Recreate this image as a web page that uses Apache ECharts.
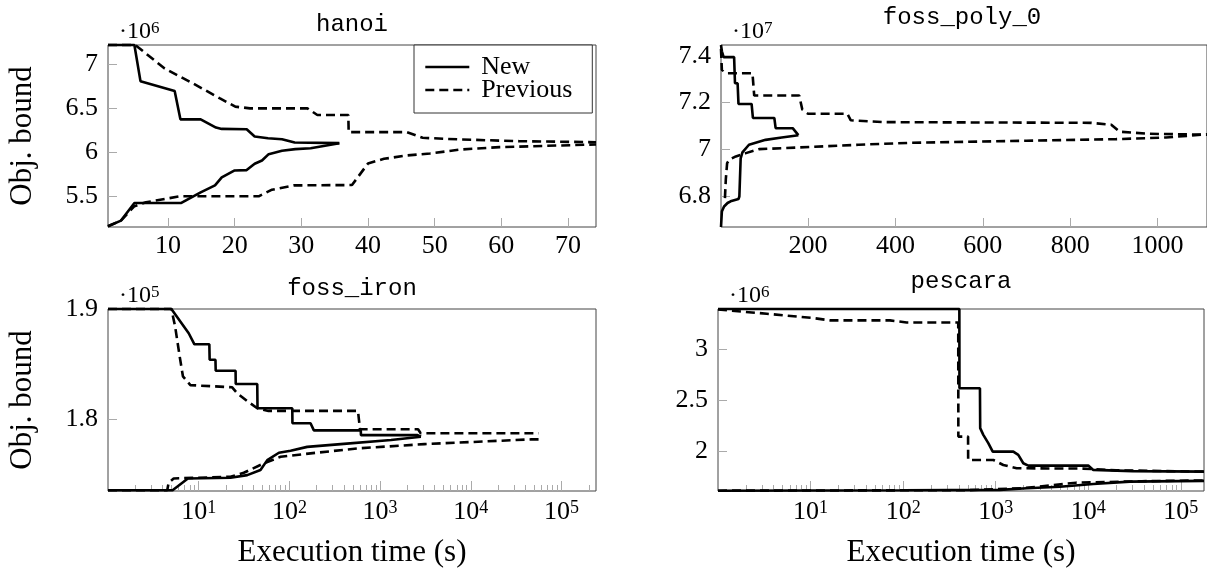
<!DOCTYPE html>
<html>
<head>
<meta charset="utf-8">
<script src="https://cdn.jsdelivr.net/npm/echarts@6/dist/echarts.min.js"></script>
<style>
html,body{margin:0;padding:0;background:#fff;}
#main{width:1207px;height:573px;}
</style>
</head>
<body>
<div id="main"></div>
<script>
// hanoi (x: seconds, y: 10^6)
var hanoiNewUp = [[1,7.222],[4.96,7.222],[5.87,6.811],[11.0,6.698],[11.86,6.377],[14.9,6.377],[17.2,6.283],[18.06,6.268],[21.8,6.264],[23,6.181],[25,6.162],[27.1,6.151],[29,6.113],[35.7,6.106]];
var hanoiNewLow = [[1,5.162],[2.95,5.226],[4.96,5.426],[12.0,5.426],[14.9,5.547],[17.05,5.626],[18.06,5.717],[20,5.796],[21.8,5.8],[23,5.872],[24.1,5.909],[25.1,5.981],[27.1,6.019],[29.1,6.038],[31.4,6.049],[35.7,6.106]];
var hanoiPrevUp = [[1,7.222],[5.1,7.222],[5.3,7.2],[9.5,6.955],[13.3,6.804],[17.8,6.615],[20.1,6.521],[22.3,6.502],[30.9,6.502],[32.4,6.426],[37.05,6.426],[37.1,6.231],[45.8,6.231],[48.2,6.167],[53.9,6.148],[62.6,6.129],[74.2,6.117]];
var hanoiPrevLow = [[1,5.162],[2.95,5.226],[4.96,5.39],[6.7,5.434],[9.5,5.472],[11.8,5.502],[23.6,5.502],[25.6,5.577],[28.9,5.626],[37.6,5.63],[40,5.875],[42.4,5.928],[45.8,5.966],[49.3,5.989],[53.9,6.034],[59.7,6.061],[74.2,6.091]];

// foss_poly_0 (y: 10^7)
var polyNewUp = [[1,7.447],[3,7.42],[7,7.395],[31,7.395],[33,7.283],[39,7.283],[41,7.194],[71,7.194],[74,7.134],[123,7.134],[126,7.09],[165,7.09],[178,7.06]];
var polyNewLow = [[1,6.666],[3,6.733],[8,6.754],[16,6.769],[23,6.776],[41,6.786],[43,6.797],[46,6.961],[50,6.986],[65,7.019],[103,7.04],[140,7.05],[178,7.06]];
var polyPrevUp = [[1,7.43],[3,7.34],[15,7.326],[73,7.326],[77,7.23],[180,7.23],[187,7.17],[200,7.152],[290,7.152],[298,7.124],[374,7.116],[848,7.113],[894,7.105],[913,7.075],[981,7.066],[1113,7.062]];
var polyPrevLow = [[10,6.79],[12,6.87],[15,6.94],[20,6.955],[35,6.969],[58,6.983],[88,7.0],[150,7.005],[210,7.01],[316,7.019],[431,7.027],[700,7.036],[905,7.043],[1019,7.05],[1113,7.064]];

// foss_iron (y: 10^5, x log)
var ironNewUp = [[1,1.9],[5.0,1.9],[7.76,1.878],[8.97,1.868],[13.1,1.868],[13.2,1.854],[15.3,1.854],[15.4,1.844],[25.5,1.844],[25.6,1.832],[44.2,1.832],[44.5,1.81],[107.6,1.81],[108,1.7964],[171,1.7964],[186,1.79],[612,1.79],[615,1.7857],[2590,1.7857],[2820,1.7842]];
var ironNewLow = [[1,1.7357],[5.15,1.7357],[7.6,1.7464],[22.4,1.747],[34.3,1.7494],[48,1.754],[57,1.763],[76.6,1.7697],[103,1.7715],[157,1.775],[368,1.7775],[1320,1.7812],[2820,1.7842]];
var ironPrevUp = [[1,1.9],[5.0,1.9],[5.5,1.884],[6.17,1.857],[6.7,1.839],[8.1,1.831],[23.4,1.829],[26.6,1.8236],[34.2,1.8166],[44.2,1.81],[58.8,1.8076],[570,1.8076],[600,1.791],[2620,1.791],[2800,1.7873],[56000,1.7873]];
var ironPrevLow = [[1,1.7357],[4.5,1.7357],[4.66,1.7424],[5.3,1.7464],[22.4,1.7479],[31.4,1.7515],[52,1.76],[80,1.766],[171,1.7691],[562,1.7736],[3070,1.7775],[46200,1.7818],[56000,1.7818]];

// pescara (y: 10^6, x log)
var pesNewUp = [[1,3.387],[405,3.387],[406,2.617],[676,2.617],[680,2.228],[735,2.163],[832,2.082],[929,2.0],[1550,2.0],[1754,1.968],[1987,1.887],[2249,1.864],[10000,1.864],[11330,1.822],[30000,1.81],[178000,1.805]];
var pesNewLow = [[1,1.62],[100,1.624],[1110,1.628],[2163,1.644],[4940,1.659],[11330,1.685],[28200,1.708],[178000,1.715]];
var pesPrevUp = [[1,3.382],[3.36,3.341],[10.7,3.299],[16.3,3.276],[72,3.276],[109,3.256],[394,3.256],[395,2.146],[503,2.146],[504,1.919],[942,1.919],[1208,1.87],[1686,1.838],[8800,1.835],[20000,1.818],[178000,1.805]];
var pesPrevLow = [[1,1.62],[500,1.625],[1920,1.644],[4000,1.672],[7400,1.698],[38000,1.712],[178000,1.72]];

var titles = ['hanoi', 'foss_poly_0', 'foss_iron', 'pescara'];
var scaleExp = ['6', '7', '5', '6'];
var hanoiXTicks = [10, 20, 30, 40, 50, 60, 70];
var polyXTicks = [200, 400, 600, 800, 1000];
var logXTicks = [10, 100, 1000, 10000, 100000];
var hanoiYTicks = [5.5, 6, 6.5, 7];
var polyYTicks = [6.8, 7, 7.2, 7.4];
var ironYTicks = [1.8, 1.9];
var pesYTicks = [2, 2.5, 3];

var serif = '"Liberation Serif", "DejaVu Serif", serif';
var mono = '"Liberation Mono", "DejaVu Sans Mono", monospace';

var grids = [
  {left: 108, top: 45, width: 488, height: 182},
  {left: 721, top: 45, width: 488, height: 182},
  {left: 108, top: 309, width: 488, height: 182},
  {left: 718, top: 309, width: 486, height: 182}
];

function minorTicks(max) {
  var out = [];
  for (var d = 0; d <= 5; d++) {
    for (var k = 2; k <= 9; k++) {
      var v = k * Math.pow(10, d);
      if (v < max) out.push(v);
    }
  }
  return out;
}

var tickStyle = {show: true, inside: true, length: 9, lineStyle: {color: '#aaa', width: 1}};
var labelStyle = {fontFamily: serif, fontSize: 26, color: '#000'};
var logRich = {
  b: {fontFamily: serif, fontSize: 26, color: '#000'},
  s: {fontFamily: serif, fontSize: 18, color: '#000', verticalAlign: 'top', padding: [0, 0, 8, 0]}
};
function logLabel(v) {
  return '{b|10}{s|' + Math.round(Math.log10(v)) + '}';
}
function plainLabel(v) {
  return String(v);
}

function valX(grid, min, max, ticks) {
  return {
    type: 'value', gridIndex: grid, min: min, max: max, position: 'bottom',
    axisLine: {show: false}, splitLine: {show: false},
    axisTick: Object.assign({customValues: ticks}, tickStyle),
    axisLabel: Object.assign({customValues: ticks, margin: 6, formatter: plainLabel}, labelStyle)
  };
}
function logX(grid, max) {
  return {
    type: 'log', logBase: 10, gridIndex: grid, min: 1, max: max, position: 'bottom',
    axisLine: {show: false}, splitLine: {show: false},
    axisTick: Object.assign({customValues: logXTicks}, tickStyle, {length: 10}),
    axisLabel: {customValues: logXTicks, margin: 8, formatter: logLabel, rich: logRich},
    name: 'Execution time (s)', nameLocation: 'middle', nameGap: 46,
    nameTextStyle: {fontFamily: serif, fontSize: 31, color: '#000'}
  };
}
function logMinor(grid, max) {
  return {
    type: 'log', logBase: 10, gridIndex: grid, min: 1, max: max, position: 'bottom',
    axisLine: {show: false}, splitLine: {show: false}, axisLabel: {show: false},
    axisTick: Object.assign({customValues: minorTicks(max)}, tickStyle, {length: 6})
  };
}
function valY(grid, min, max, ticks, named) {
  var ax = {
    type: 'value', gridIndex: grid, min: min, max: max, position: 'left',
    axisLine: {show: false}, splitLine: {show: false},
    axisTick: Object.assign({customValues: ticks}, tickStyle),
    axisLabel: Object.assign({customValues: ticks, margin: 10, formatter: plainLabel}, labelStyle)
  };
  if (named) {
    ax.name = 'Obj. bound';
    ax.nameLocation = 'middle';
    ax.nameGap = 70;
    ax.nameTextStyle = {fontFamily: serif, fontSize: 31, color: '#000'};
  }
  return ax;
}

function line(name, data, xi, yi, dashed) {
  return {
    type: 'line', name: name, data: data, xAxisIndex: xi, yAxisIndex: yi,
    symbol: 'none', clip: false, silent: true, animation: false,
    itemStyle: {color: '#000'},
    lineStyle: {color: '#000', width: 2.6, type: dashed ? [9, 5] : 'solid'}
  };
}

var graphics = [];
var titleY = [24.5, 17.5, 288.5, 281.5];
var titleX = [352, 962, 352, 961];
titles.forEach(function (t, i) {
  graphics.push({
    type: 'text', x: titleX[i], y: titleY[i],
    style: {text: t, font: '24px ' + mono, fill: '#000', align: 'center', verticalAlign: 'middle',
            textAlign: 'center', textVerticalAlign: 'middle'}
  });
  var g = grids[i];
  graphics.push({
    type: 'text', x: g.left + 11, y: g.top - 13,
    style: {text: '{b|·10}{s|' + scaleExp[i] + '}', fill: '#000', align: 'left', verticalAlign: 'middle',
            textAlign: 'left', textVerticalAlign: 'middle',
            rich: {
              b: {fontFamily: serif, fontSize: 24, fill: '#000'},
              s: {fontFamily: serif, fontSize: 17, fill: '#000', verticalAlign: 'top', padding: [0, 0, 7, 0]}
            }}
  });
});

var chart = echarts.init(document.getElementById('main'), null, {renderer: 'canvas'});
chart.setOption({
  animation: false,
  backgroundColor: '#fff',
  grid: grids.map(function (g) {
    return Object.assign({show: true, borderColor: '#444', borderWidth: 1, backgroundColor: 'transparent', containLabel: false}, g);
  }),
  xAxis: [
    valX(0, 1, 74.2, hanoiXTicks),
    valX(1, 1, 1113, polyXTicks),
    logX(2, 240000),
    logMinor(2, 240000),
    logX(3, 178000),
    logMinor(3, 178000)
  ],
  yAxis: [
    valY(0, 5.153, 7.222, hanoiYTicks, true),
    valY(1, 6.666, 7.447, polyYTicks, false),
    valY(2, 1.735, 1.9, ironYTicks, true),
    valY(3, 1.617, 3.387, pesYTicks, false)
  ],
  legend: {
    data: ['New', 'Previous'],
    orient: 'vertical', left: 414, top: 45,
    itemWidth: 44, itemHeight: 14, itemGap: -3,
    padding: [9, 20, 10, 10],
    backgroundColor: '#fff', borderColor: '#333', borderWidth: 1,
    selectedMode: false,
    itemStyle: {opacity: 0},
    lineStyle: {color: '#000', width: 2.6},
    textStyle: {fontFamily: serif, fontSize: 26, color: '#000', padding: [0, 0, 0, 7]}
  },
  graphic: graphics,
  series: [
    line('New', hanoiNewUp, 0, 0, false),
    line('New', hanoiNewLow, 0, 0, false),
    line('Previous', hanoiPrevUp, 0, 0, true),
    line('Previous', hanoiPrevLow, 0, 0, true),
    line('New', polyNewUp, 1, 1, false),
    line('New', polyNewLow, 1, 1, false),
    line('Previous', polyPrevUp, 1, 1, true),
    line('Previous', polyPrevLow, 1, 1, true),
    line('New', ironNewUp, 2, 2, false),
    line('New', ironNewLow, 2, 2, false),
    line('Previous', ironPrevUp, 2, 2, true),
    line('Previous', ironPrevLow, 2, 2, true),
    line('New', pesNewUp, 4, 3, false),
    line('New', pesNewLow, 4, 3, false),
    line('Previous', pesPrevUp, 4, 3, true),
    line('Previous', pesPrevLow, 4, 3, true)
  ]
});
</script>
</body>
</html>
